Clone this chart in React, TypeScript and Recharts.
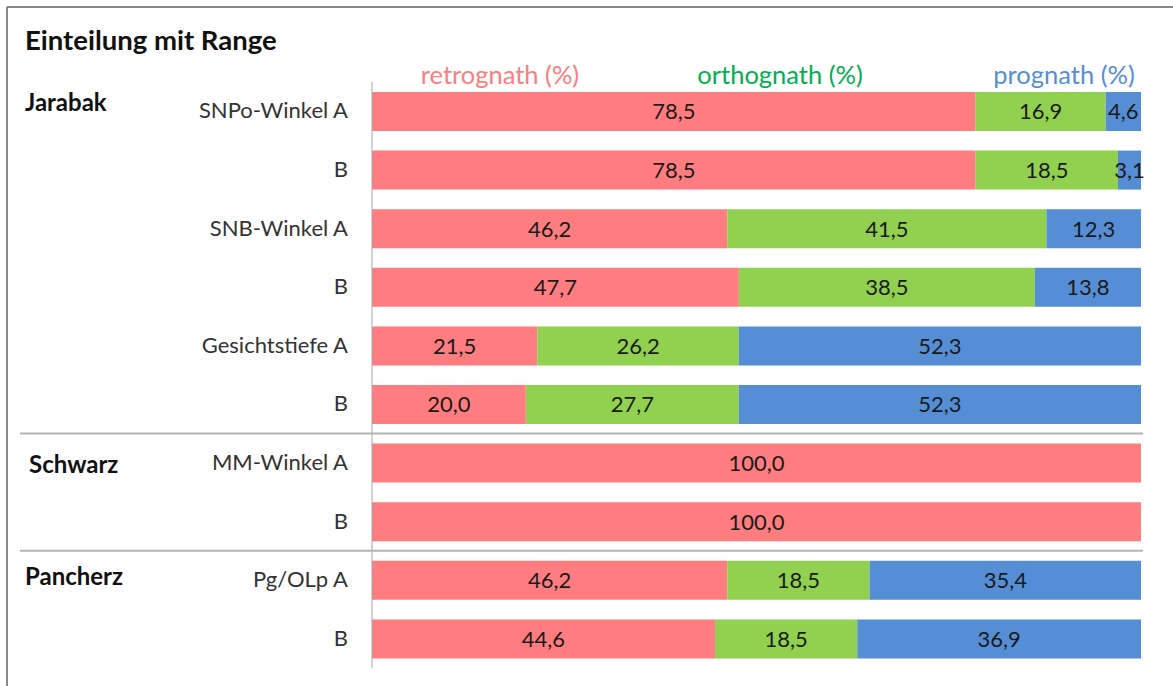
import { BarChart, Bar, XAxis, YAxis, LabelList } from "recharts";

// Zeilen (Messungen) von oben nach unten
const rowLabels = [
  "SNPo-Winkel A",
  "B",
  "SNB-Winkel A",
  "B",
  "Gesichtstiefe A",
  "B",
  "MM-Winkel A",
  "B",
  "Pg/OLp A",
  "B",
];

// Anteile in %
const retrognath = [78.5, 78.5, 46.2, 47.7, 21.5, 20.0, 100.0, 100.0, 46.2, 44.6];
const orthognath = [16.9, 18.5, 41.5, 38.5, 26.2, 27.7, 0, 0, 18.5, 18.5];
const prognath = [4.6, 3.1, 12.3, 13.8, 52.3, 52.3, 0, 0, 35.4, 36.9];

// Gruppen: Name + Index der ersten Zeile
const groupNames = ["Jarabak", "Schwarz", "Pancherz"];
const groupStarts = [0, 6, 8];

const seriesNames = ["retrognath (%)", "orthognath (%)", "prognath (%)"];

const W = 1173;
const H = 686;
const M = { top: 82, right: 32, bottom: 18, left: 0 };
const AXIS_W = 372;
const BAND = (H - M.top - M.bottom) / rowLabels.length;

const FONT = "Lato, 'Open Sans', sans-serif";
const BAR_COLORS = ["#FF7C80", "#92D050", "#558ED5"];
const TEXT_COLORS = ["#FF7C80", "#00B050", "#558ED5"];
const GROUP_DY = [-7, 3, -2];
const GROUP_X = [25, 29, 25];

const data = rowLabels.map((label, i) => ({
  id: `r${i}`,
  label,
  retro: retrognath[i],
  ortho: orthognath[i],
  progn: prognath[i],
}));

const fmt = (v: any) => (typeof v === "number" && v > 0 ? v.toFixed(1).replace(".", ",") : "");

function RowTick(props: any) {
  const { x, y, payload } = props;
  const idx = payload.index ?? data.findIndex((d) => d.id === payload.value);
  const g = groupStarts.indexOf(idx);
  return (
    <g>
      <text x={x} y={y} dy={7} textAnchor="end" fontSize={22} fill="#333" fontFamily={FONT}>
        {rowLabels[idx]}
      </text>
      {g >= 0 && (
        <text x={GROUP_X[g]} y={y + GROUP_DY[g]} dy={7} fontSize={24} fontWeight={700} fill="#111" fontFamily={FONT}>
          {groupNames[g]}
        </text>
      )}
      {g > 0 && (
        <line x1={20} x2={1143} y1={y - BAND / 2} y2={y - BAND / 2} stroke="#b4b4b4" strokeWidth={2} />
      )}
    </g>
  );
}

const legendX = [500, 780, 1064];

export default function App() {
  const keys = ["retro", "ortho", "progn"];
  return (
    <div style={{ position: "absolute", left: 0, top: 0, width: W, height: H, background: "#fff" }}>
      <BarChart width={W} height={H} data={data} layout="vertical" margin={M} barSize={39}>
        <XAxis type="number" domain={[0, 100]} allowDataOverflow hide />
        <YAxis
          type="category"
          dataKey="id"
          width={AXIS_W}
          tickLine={false}
          tickMargin={18}
          axisLine={{ stroke: "#a6a6a6" }}
          tick={<RowTick />}
          interval={0}
        />
        {keys.map((k, i) => (
          <Bar key={k} dataKey={k} stackId="a" fill={BAR_COLORS[i]} isAnimationActive={false}>
            <LabelList dataKey={k} position="center" formatter={fmt} fill="#1a1a1a" fontSize={22} fontFamily={FONT} />
          </Bar>
        ))}
      </BarChart>
      <svg width={W} height={H} style={{ position: "absolute", left: 0, top: 0, pointerEvents: "none" }}>
        <line x1={7} x2={W} y1={7} y2={7} stroke="#888" strokeWidth={2} />
        <line x1={7} x2={7} y1={7} y2={H} stroke="#888" strokeWidth={2} />
        <text x={25} y={50} fontSize={27.5} fontWeight={700} fill="#111" fontFamily={FONT}>
          Einteilung mit Range
        </text>
        {seriesNames.map((s, i) => (
          <text key={s} x={legendX[i]} y={84} textAnchor="middle" fontSize={25.5} fill={TEXT_COLORS[i]} fontFamily={FONT}>
            {s}
          </text>
        ))}
      </svg>
    </div>
  );
}
